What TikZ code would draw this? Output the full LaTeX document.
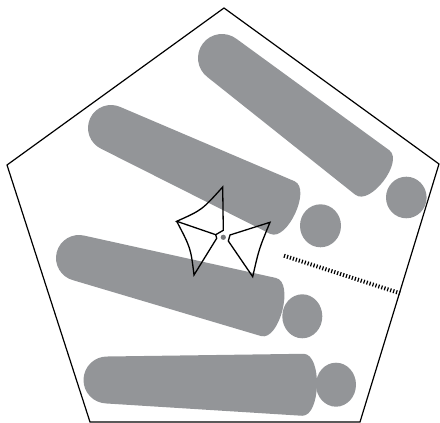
\documentclass[tikz,border=0pt]{standalone}
\definecolor{rodgray}{RGB}{147,149,152}
\tikzset{
  outline/.style={draw=black,line width=1.3pt,line join=miter},
  hatch/.style={draw=black,line width=4pt,dash pattern=on 1.2pt off 1.9pt}
}
% #1,#2 left cap centre, #3 angle, #4 length, #5 left radius, #6 right half width
\newcommand{\myrod}[6]{%
  \begin{scope}[shift={(#1,#2)},rotate=#3]
    \fill[rodgray] (0,#5) arc[start angle=90,end angle=270,radius=#5]
      -- ({#4-14},-#6) .. controls ({#4+4.7},-#6) and ({#4+4.7},#6) .. ({#4-14},#6) -- cycle;
  \end{scope}}
\begin{document}
\begin{tikzpicture}[x=1pt,y=1pt]
\useasboundingbox (0,0) rectangle (440,423);
% pentagon
\draw[outline,line width=1.2pt] (224,415) coordinate (p1) -- (439,259) coordinate (p2)
  -- (360,1) coordinate (p3) -- (90,1) coordinate (p4) -- (7,258) coordinate (p5) -- cycle;
% rods
\myrod{222}{365}{-37.3}{203}{24}{28}
\myrod{111}{295}{-24.9}{203}{23}{29}
\myrod{79}{165}{-14.5}{210}{23}{30}
\myrod{107}{43}{-1.4}{210}{23.5}{31}
% heads
\fill[rodgray] (406.3,225.5) ellipse[x radius=20.3,y radius=20.8];
\fill[rodgray] (320.5,197.2) ellipse[x radius=20.5,y radius=21.5];
\fill[rodgray] (302.3,106.7) ellipse[x radius=20,y radius=22];
\fill[rodgray] (336,38.3) ellipse[x radius=20,y radius=22];
% star
\coordinate (A1) at (222.7,236);
\coordinate (A2) at (223.3,192.7);
\coordinate (P) at (215.7,188.3);
\coordinate (L) at (176.7,201.7);
\coordinate (B) at (194,148);
\coordinate (Q) at (216.7,184.7);
\coordinate (C1) at (230,188);
\coordinate (C2) at (270,200.7);
\coordinate (C3) at (252.7,146.3);
\coordinate (C4) at (228.3,182);
\draw[outline] (L) .. controls (202,213) .. (A1) -- (A2) -- (P) -- cycle;
\draw[outline] (L) .. controls (190.7,175) .. (B) -- (Q) -- (P);
\draw[outline] (C1) -- (C2) .. controls (259,174) .. (C3) -- (C4) -- cycle;
\fill[rodgray!80!black] (223.3,185.7) circle[radius=2.6];
% hatched line
\coordinate (h1) at (284,167.3);
\coordinate (h2) at (400,129.7);
\draw[hatch] (h1) -- (h2);
\end{tikzpicture}
\end{document}
